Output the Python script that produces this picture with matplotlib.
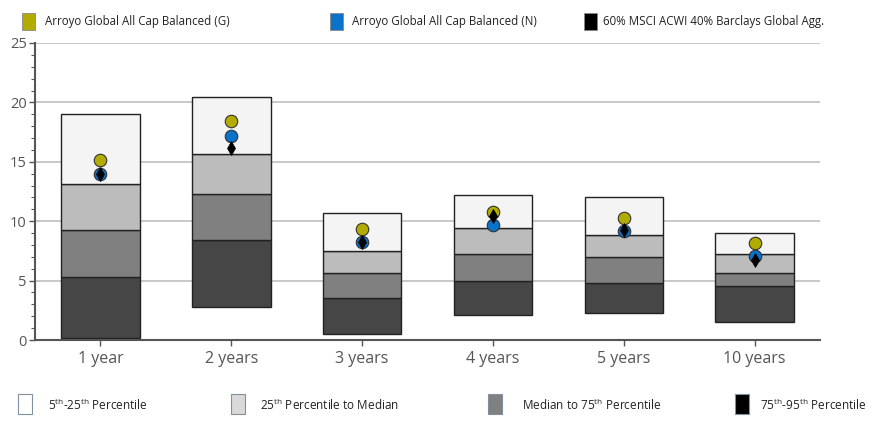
import matplotlib
matplotlib.use("Agg")
import matplotlib.pyplot as plt
from matplotlib.patches import Rectangle
import numpy as np

plt.rcParams['font.family'] = ['Open Sans', 'DejaVu Sans']

categories = ["1 year", "2 years", "3 years", "4 years", "5 years", "10 years"]
p95 = [0.14, 2.78, 0.48, 2.10, 2.24, 1.54]
p75 = [5.30, 8.39, 3.51, 4.97, 4.77, 4.52]
p50 = [9.23, 12.32, 5.61, 7.26, 6.99, 5.64]
p25 = [13.16, 15.68, 7.49, 9.45, 8.81, 7.24]
p5 = [19.0, 20.43, 10.66, 12.23, 12.01, 9.03]
fund_g = [15.15, 18.43, 9.32, 10.8, 10.3, 8.19]
fund_n = [13.97, 17.2, 8.25, 9.65, 9.18, 7.1]
bench = [14.0, 16.19, 8.25, 10.4, 9.3, 6.73]

series_names = ["Arroyo Global All Cap Balanced (G)",
                "Arroyo Global All Cap Balanced (N)",
                "60% MSCI ACWI 40% Barclays Global Agg."]
band_names = ["5$^{\\mathregular{th}}$-25$^{\\mathregular{th}}$ Percentile",
              "25$^{\\mathregular{th}}$ Percentile to Median",
              "Median to 75$^{\\mathregular{th}}$ Percentile",
              "75$^{\\mathregular{th}}$-95$^{\\mathregular{th}}$ Percentile"]

band_colors = ["#f4f4f4", "#bcbcbc", "#808080", "#464646"]
gold = "#b2ac00"
blue = "#0a72c8"

fig = plt.figure(figsize=(8.72, 4.23), dpi=100)
ax = fig.add_axes([35/872, 1-340/423, (820-35)/872, (340-43)/423])

x = np.arange(len(categories))
w = 0.6
lows = [p95, p75, p50, p25]
highs = [p75, p50, p25, p5]
colors_order = [band_colors[3], band_colors[2], band_colors[1], band_colors[0]]
for lo, hi, c in zip(lows, highs, colors_order):
    ax.bar(x, np.array(hi) - np.array(lo), bottom=lo, width=w, color=c,
           edgecolor="#222222", linewidth=1.0, zorder=2)

ax.plot(x, fund_g, 'o', ms=9, color=gold, mec="#333333", mew=0.8, zorder=3, linestyle='none')
ax.plot(x, fund_n, 'o', ms=9, color=blue, mec="#333333", mew=0.8, zorder=4, linestyle='none')
ax.plot(x, bench, 'd', ms=7, color="#000000", mec="#000000", mew=0.5, zorder=5, linestyle='none')

ax.set_xlim(-0.5, len(categories) - 0.5)
ax.set_ylim(0, 25)
ax.set_yticks([0, 5, 10, 15, 20, 25])
ax.set_yticks(np.arange(0, 26, 1), minor=True)
ax.set_xticks(x)
ax.set_xticklabels(categories, fontsize=11.5, color="#555555")
ax.tick_params(axis='y', which='major', labelsize=10.5, labelcolor="#555555", color="#555555", length=4, width=1, pad=2)
ax.tick_params(axis='y', which='minor', color="#555555", length=3, width=0.8)
ax.tick_params(axis='x', color="#555555", length=4, width=1, pad=4)
ax.grid(axis='y', which='major', color="#c4c4c4", linewidth=1.3, zorder=0)
ax.set_axisbelow(True)
for s in ['top', 'right']:
    ax.spines[s].set_visible(False)
for s in ['left', 'bottom']:
    ax.spines[s].set_color("#555555")
    ax.spines[s].set_linewidth(1.5)

# top legend
top_items = [(22, 45, gold), (330, 352, blue), (584, 603, "#000000")]
for (sx, tx, c), name in zip(top_items, series_names):
    fig.add_artist(Rectangle((sx/872, 1-30/423), 13/872, 17/423, transform=fig.transFigure,
                             facecolor=c, edgecolor="#888888", linewidth=0.6))
    fig.text(tx/872, 1-21/423, name, fontsize=8.3, va='center', ha='left', color="#222222")

# bottom legend
bot_items = [(18, 48, "#ffffff"), (231, 260, "#d9d9d9"), (488, 522, "#808080"), (735, 760, "#000000")]
for (sx, tx, c), name in zip(bot_items, band_names):
    fig.add_artist(Rectangle((sx/872, 1-414/423), 14/872, 20/423, transform=fig.transFigure,
                             facecolor=c, edgecolor="#8090a0", linewidth=0.8))
    fig.text(tx/872, 1-405/423, name, fontsize=8.5, va='center', ha='left', color="#222222")

fig.savefig("out.png", dpi=100)
